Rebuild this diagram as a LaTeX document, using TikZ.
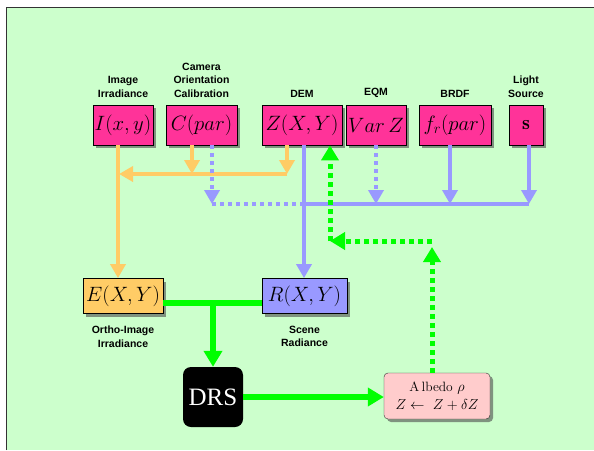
\documentclass[tikz,border=0pt]{standalone}
\usepackage{fontspec}
\newfontfamily\lblfont{Liberation Sans}
\newfontfamily\drsfont{Liberation Serif}
\usetikzlibrary{arrows.meta,shadows}
\definecolor{bggreen}{HTML}{CCFFCC}
\definecolor{boxpink}{HTML}{FF3399}
\definecolor{boxorange}{HTML}{FFCC66}
\definecolor{boxblue}{HTML}{9999FF}
\definecolor{albpink}{HTML}{FFCCCC}
\definecolor{brightgreen}{HTML}{00FF00}
\tikzset{
 box/.style={draw=black,line width=0.8pt,fill=boxpink,minimum height=40pt,inner sep=1pt,
  font=\fontsize{20}{24}\selectfont,
  drop shadow={shadow xshift=3pt,shadow yshift=-3pt,fill=black!70,opacity=0.6}},
 lbl/.style={font=\lblfont\bfseries\fontsize{10.5}{13.5}\selectfont,align=center,inner sep=0pt},
 oarrow/.style={draw=boxorange,line width=4pt,-{Triangle[width=15pt,length=14pt]}},
 barrow/.style={draw=boxblue,line width=4pt,-{Triangle[width=15pt,length=14pt]}},
 bline/.style={draw=boxblue,line width=4pt},
 bdots/.style={bline,dash pattern=on 4pt off 4pt},
 gline/.style={draw=brightgreen,line width=6pt},
 garrow/.style={gline,-{Triangle[width=18pt,length=16pt]}},
 gdots/.style={draw=brightgreen,line width=5pt,dash pattern=on 5pt off 4pt,-{Triangle[width=17pt,length=15pt]}}
}
\begin{document}
\begin{tikzpicture}[x=1pt,y=-1pt]
 \useasboundingbox (0,0) rectangle (594,450);
 \fill[bggreen] (6,7) rectangle (594,450);
 \draw[black!80,line width=1pt] (6,450) -- (6,7) -- (594,7);
 % input boxes
 \node[box,minimum width=60pt] (img) at (123,125) {$I(x,y)$};
 \node[box,minimum width=71pt] (cam) at (201.5,125) {$C(par)$};
 \node[box,minimum width=80pt] (dem) at (302,125) {$Z(X,Y)$};
 \node[box,minimum width=60pt] (eqm) at (376,125) {$Var\,Z$};
 \node[box,minimum width=72pt] (brdf) at (455,125) {$f_r(par)$};
 \node[box,minimum width=34pt] (light) at (526,125) {$\mathbf{s}$};
 \node[lbl,anchor=south] (imglbl) at ([yshift=7pt]img.north) {Image\\Irradiance};
 \node[lbl,anchor=south] (camlbl) at ([yshift=7pt]cam.north) {Camera\\Orientation\\Calibration};
 \node[lbl,anchor=south] (demlbl) at ([yshift=7pt]dem.north) {DEM};
 \node[lbl,anchor=south] (eqmlbl) at ([yshift=7pt]eqm.north) {EQM};
 \node[lbl,anchor=south] (brdflbl) at ([yshift=7pt]brdf.north) {BRDF};
 \node[lbl,anchor=south] (lightlbl) at ([yshift=7pt]light.north) {Light\\Source};
 % images
 \node[box,fill=boxorange,minimum width=80pt,minimum height=35pt] (ortho) at (123,296) {$E(X,Y)$};
 \node[box,fill=boxblue,minimum width=85pt,minimum height=35pt] (scene) at (304.5,296) {$R(X,Y)$};
 \node[lbl,anchor=north] (ortholbl) at ([yshift=-12pt]ortho.south) {Ortho-Image\\Irradiance};
 \node[lbl,anchor=north] (scenelbl) at ([yshift=-12pt]scene.south) {Scene\\Radiance};
 \node[fill=black,rounded corners=8pt,minimum width=60pt,minimum height=60pt,inner sep=0pt,
  text=white,font=\drsfont\fontsize{25}{28}\selectfont] (drs) at (213,397) {DRS};
 \node[draw=black!80,fill=albpink,rounded corners=4pt,minimum width=106pt,minimum height=46pt,
  inner sep=2pt,align=center,font=\fontsize{13.5}{18}\selectfont,
  drop shadow={shadow xshift=3pt,shadow yshift=-3pt,fill=black!70,opacity=0.6}] (albedo) at (437,396)
  {A\,lbedo $\rho$\\$Z\leftarrow\ Z+\delta Z$};
 % junctions
 \coordinate (obus) at (0,174);
 \coordinate (bbus) at (0,204);
 \coordinate (gbus) at (432,241);
 \coordinate (gleft) at (330,241);
 \coordinate (imgo) at ([xshift=-5pt]img.south);
 \coordinate (camo) at ([xshift=-9.5pt]cam.south);
 \coordinate (camb) at ([xshift=10.5pt]cam.south);
 \coordinate (demo) at ([xshift=-15pt]dem.south);
 \coordinate (demb) at ([xshift=2pt]dem.south);
 \coordinate (brdfb) at ([xshift=-5pt]brdf.south);
 \coordinate (lightb) at ([xshift=3pt]light.south);
 % orange
 \draw[oarrow] (imgo) -- (imgo |- ortho.north);
 \draw[oarrow] (camo) -- (camo |- obus);
 \draw[oarrow] (demo) -- (demo |- obus);
 \draw[oarrow,shorten >=-1pt] (demo |- obus) -- ([xshift=2pt]imgo |- obus);
 % blue
 \draw[bline] (demb |- bbus) -- (lightb |- bbus);
 \draw[bdots] (camb |- bbus) -- (demb |- bbus);
 \draw[bdots,-{Triangle[width=15pt,length=14pt]}] (camb) -- (camb |- bbus);
 \draw[bdots,-{Triangle[width=15pt,length=14pt]}] (eqm.south) -- (eqm.south |- bbus);
 \draw[barrow] (brdfb) -- (brdfb |- bbus);
 \draw[barrow] (lightb) -- (lightb |- bbus);
 \draw[barrow] (demb) -- (demb |- scene.north);
 % green
 \draw[gline] ([yshift=-7pt]ortho.east) -- ([yshift=-7pt]scene.west);
 \draw[garrow] (drs.north |- ortho.east) ++(0,7) -- (drs.north);
 \draw[garrow] (drs.east) -- (drs.east -| albedo.west);
 \draw[gdots] (albedo.north -| gbus) -- ([yshift=-6pt]gbus);
 \draw[gdots] (gbus) -- (gleft);
 \draw[gdots] (gleft) -- (gleft |- dem.south);
\end{tikzpicture}
\end{document}
